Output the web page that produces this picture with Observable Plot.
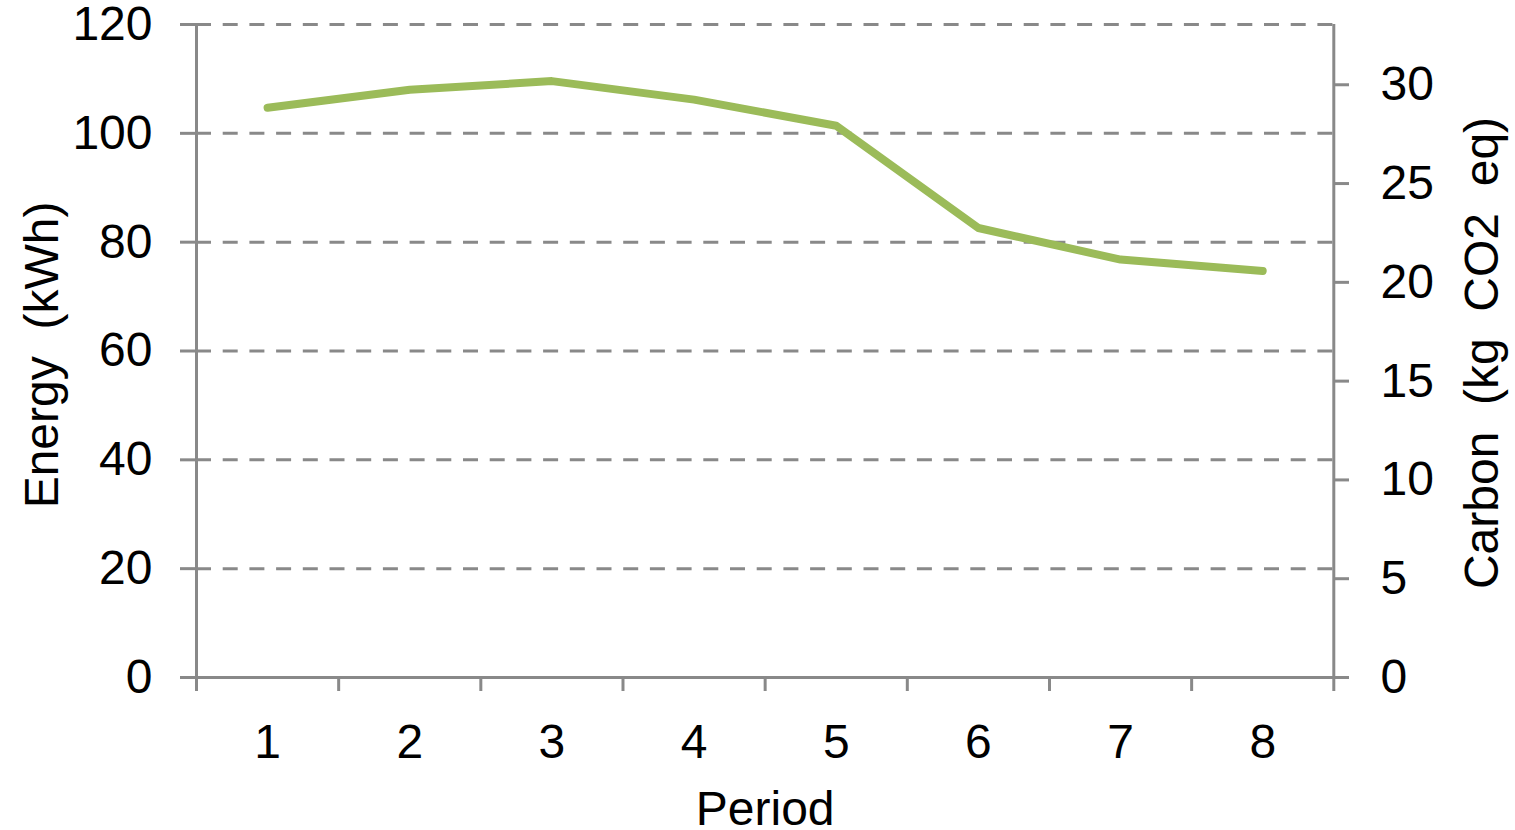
<!DOCTYPE html>
<html>
<head>
<meta charset="utf-8">
<script src="https://cdn.jsdelivr.net/npm/d3@7"></script>
<script src="https://cdn.jsdelivr.net/npm/@observablehq/plot@0.6"></script>
<style>
  html, body { margin: 0; padding: 0; background: #fff; }
  #chart svg { display: block; }
</style>
</head>
<body>
<div id="chart"></div>
<script>
// Data
const periods = [1, 2, 3, 4, 5, 6, 7, 8];
const energy = [104.7, 108.0, 109.6, 106.2, 101.4, 82.6, 76.8, 74.7];
const energyTicks = [0, 20, 40, 60, 80, 100, 120];
const carbonTicks = [0, 5, 10, 15, 20, 25, 30];
const energyMax = 120;
const carbonMax = 33.05;
const xTitle = "Period";
const yTitle = "Energy\u00a0 (kWh)";
const y2Title = "Carbon\u00a0 (kg\u00a0 CO2\u00a0 eq)";

const data = periods.map((p, i) => ({ period: p, energy: energy[i] }));
const boundaries = [...periods.map(p => p - 0.5), periods[periods.length - 1] + 0.5];
const toEnergy = c => c * energyMax / carbonMax;
const toCarbon = e => Math.round(e * carbonMax / energyMax);

const grey = "#898989";
const fs = 48;

const chart = Plot.plot({
  width: 1515,
  height: 830,
  marginLeft: 196,
  marginRight: 181.7,
  marginTop: 24,
  marginBottom: 153,
  style: { fontFamily: "'Liberation Sans', Arial, sans-serif", fontSize: fs + "px", background: "#fff", color: "#000" },
  x: { domain: [boundaries[0], boundaries[boundaries.length - 1]] },
  y: { domain: [0, energyMax] },
  marks: [
    // dashed gridlines
    Plot.ruleY(energyTicks.filter(d => d > 0), { stroke: grey, strokeWidth: 3, strokeDasharray: "15,11.7" }),
    // bottom axis line
    Plot.ruleY([0], { stroke: grey, strokeWidth: 3 }),
    // left and right axis lines
    Plot.ruleX([boundaries[0], boundaries[boundaries.length - 1]], { stroke: grey, strokeWidth: 3 }),
    // x boundary tick marks
    Plot.axisX({ ticks: boundaries, tickSize: 14, tickFormat: () => "", stroke: grey, strokeWidth: 3, label: null }),
    // x category labels
    Plot.axisX({ ticks: periods, tickSize: 0, tickPadding: 46, tickFormat: d => String(d), fontSize: fs, fill: "#000", label: null }),
    // left axis
    Plot.axisY({ ticks: energyTicks, tickSize: 16, tickPadding: 28, fontSize: fs, stroke: grey, strokeWidth: 3, fill: "#000", label: null }),
    // right axis (carbon)
    Plot.axisY({ anchor: "right", ticks: carbonTicks.map(toEnergy), tickFormat: toCarbon, tickSize: 14.7, tickPadding: 32, fontSize: fs, stroke: grey, strokeWidth: 3, fill: "#000", label: null }),
    // the series
    Plot.line(data, { x: "period", y: "energy", stroke: "#9BBB59", strokeWidth: 8, strokeLinecap: "round", strokeLinejoin: "round" }),
    // axis titles
    Plot.text([xTitle], { frameAnchor: "bottom", textAnchor: "middle", lineAnchor: "middle", dy: 132.6, fontSize: fs, fill: "#000" }),
    Plot.text([yTitle], { frameAnchor: "left", textAnchor: "middle", lineAnchor: "middle", dx: -153.4, dy: 4, rotate: -90, fontSize: fs, fill: "#000" }),
    Plot.text([y2Title], { frameAnchor: "right", textAnchor: "middle", lineAnchor: "middle", dx: 149.3, dy: 2, rotate: -90, fontSize: fs, fill: "#000" })
  ]
});

document.getElementById("chart").appendChild(chart);
</script>
</body>
</html>
